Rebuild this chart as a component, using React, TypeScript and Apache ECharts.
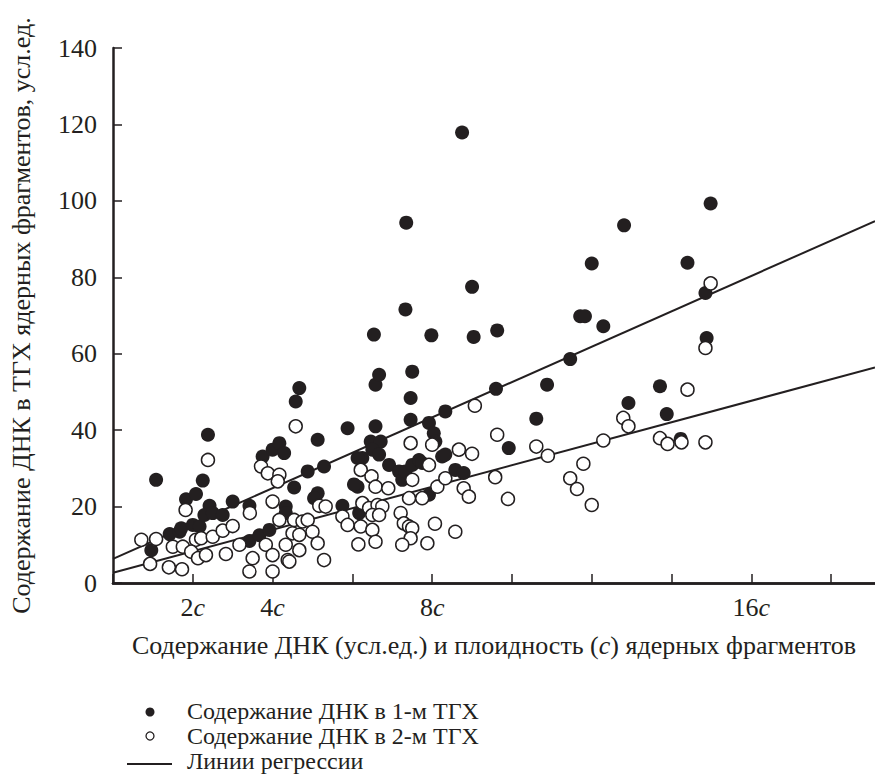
import React, { useEffect, useRef } from "react";
import * as echarts from "echarts";

// DNA content (c units) vs DNA in 1st TGX (filled circles)
const tgx1: number[][] = [
  [1.08, 27.0], [0.96, 8.6], [1.42, 12.8], [1.67, 13.4], [1.71, 14.3], [2.0, 15.2],
  [2.17, 14.8], [1.83, 21.9], [2.08, 23.3], [2.25, 26.8], [2.38, 38.8], [2.42, 20.2],
  [2.29, 17.8], [2.5, 18.3], [2.75, 17.8], [3.0, 21.3], [3.42, 20.2], [3.42, 11.0],
  [3.67, 12.5], [3.75, 33.1], [4.0, 34.9], [4.17, 36.6], [4.29, 34.0], [3.92, 13.9],
  [4.33, 20.0], [4.33, 18.3], [4.58, 47.5], [4.67, 51.0], [4.54, 25.0], [4.88, 29.2],
  [5.13, 37.5], [5.29, 30.5], [5.13, 23.5], [5.04, 22.2], [5.75, 20.2], [5.88, 40.5],
  [6.17, 18.3], [6.13, 25.2], [6.04, 25.8], [6.25, 32.7], [6.13, 32.7], [6.46, 37.0],
  [6.71, 37.0], [6.5, 34.9], [6.67, 33.6], [6.58, 41.0], [6.58, 51.9], [6.67, 54.5],
  [6.54, 65.0], [6.92, 30.9], [7.17, 29.2], [7.25, 27.0], [7.33, 29.2], [7.5, 30.9],
  [7.67, 32.2], [7.75, 31.4], [7.46, 42.7], [7.46, 48.4], [7.5, 55.3], [7.33, 71.6],
  [7.35, 94.3], [7.92, 41.9], [7.92, 23.1], [7.98, 64.8], [8.04, 39.2], [8.08, 37.0],
  [8.25, 33.1], [8.33, 44.9], [8.33, 33.6], [8.58, 29.6], [8.79, 28.8], [8.75, 117.9],
  [9.0, 77.5], [9.04, 64.4], [9.6, 50.8], [9.63, 66.1], [9.92, 35.3], [10.61, 43.0],
  [10.88, 51.9], [11.46, 58.6], [11.71, 69.8], [11.83, 69.8], [12.0, 83.6], [12.29, 67.2],
  [12.81, 93.6], [12.92, 47.1], [13.71, 51.5], [13.88, 44.2], [14.23, 37.7], [14.4, 83.8],
  [14.85, 75.9], [14.88, 64.1], [14.98, 99.3]
];

// DNA in 2nd TGX (open circles)
const tgx2: number[][] = [
  [0.71, 11.3], [1.08, 11.5], [0.93, 5.0], [1.4, 4.1], [1.73, 3.6], [1.82, 19.1],
  [2.38, 32.2], [1.5, 9.5], [1.75, 9.5], [2.08, 11.3], [2.21, 11.7], [1.96, 8.2],
  [2.13, 6.5], [2.33, 7.3], [2.5, 12.1], [2.75, 13.7], [3.0, 14.9], [3.17, 10.0],
  [2.83, 7.6], [3.43, 18.3], [3.5, 6.5], [3.42, 3.0], [3.71, 30.5], [3.88, 28.7],
  [4.17, 28.3], [4.13, 26.6], [4.0, 21.3], [3.83, 10.0], [4.0, 7.3], [4.0, 3.0],
  [4.33, 10.0], [4.38, 6.0], [4.17, 16.5], [4.5, 13.0], [4.58, 41.0], [4.54, 16.5],
  [4.75, 16.1], [4.88, 16.5], [5.0, 13.4], [4.67, 12.6], [5.13, 10.4], [4.67, 8.6],
  [4.42, 5.6], [5.29, 6.0], [5.17, 20.2], [5.33, 20.0], [5.75, 17.4], [5.88, 15.2],
  [6.21, 14.8], [6.5, 13.9], [6.15, 10.1], [6.58, 10.8], [6.21, 29.6], [6.48, 27.9],
  [6.58, 25.2], [6.9, 24.8], [6.25, 20.9], [6.42, 19.6], [6.63, 20.4], [6.75, 20.0],
  [6.5, 17.8], [6.67, 17.8], [7.21, 18.3], [7.29, 15.6], [7.42, 14.8], [7.5, 14.3],
  [7.46, 11.7], [7.25, 10.0], [7.42, 22.2], [7.75, 22.2], [7.46, 36.6], [7.5, 27.0],
  [7.92, 30.9], [8.0, 36.2], [8.07, 15.5], [7.88, 10.4], [8.13, 25.2], [8.33, 27.4],
  [8.58, 13.4], [8.67, 34.9], [9.0, 33.8], [8.79, 24.8], [8.92, 22.6], [9.07, 46.4],
  [9.58, 27.7], [9.63, 38.8], [9.9, 22.0], [10.61, 35.7], [10.9, 33.3], [11.46, 27.4],
  [11.63, 24.6], [11.79, 31.2], [12.0, 20.4], [12.29, 37.3], [12.79, 43.2], [12.92, 41.0],
  [13.71, 37.9], [13.9, 36.4], [14.25, 36.8], [14.4, 50.6], [14.85, 61.5], [14.85, 36.8],
  [14.98, 78.4]
];

const regression1: number[][] = [[0, 6.3], [19.1, 94.7]];
const regression2: number[][] = [[0, 2.7], [19.1, 56.4]];

const xLabeled: number[] = [2, 4, 8, 16];
const legendNames: string[] = [
  "Содержание ДНК в 1-м ТГХ",
  "Содержание ДНК в 2-м ТГХ",
  "Линии регрессии",
];

const FONT = "'Liberation Serif', 'DejaVu Serif', serif";
const INK = "#231f20";
const FS = 26;
const LFS = 24;

export default function App() {
  const ref = useRef<HTMLDivElement>(null);
  useEffect(() => {
    if (!ref.current) return;
    const chart = echarts.init(ref.current, undefined, { renderer: "svg" });
    const rich = { i: { fontStyle: "italic", fontFamily: FONT, fontSize: FS, color: INK } };
    const legendText = (y: number, text: string) => ({
      type: "text",
      x: 187,
      y,
      style: { text, font: `${LFS}px ${FONT}`, fill: INK, textVerticalAlign: "middle" },
    });
    chart.setOption({
      animation: false,
      backgroundColor: "#fff",
      textStyle: { fontFamily: FONT, color: INK },
      grid: { left: 110, top: 48, right: 0, bottom: 193 },
      xAxis: [
        {
          type: "value",
          min: 0,
          max: 19.1,
          interval: 2,
          axisLine: { show: true, onZero: false, lineStyle: { color: INK, width: 2.5 } },
          axisTick: { show: true, inside: true, length: 9, lineStyle: { color: INK, width: 1.5 } },
          splitLine: { show: false },
          axisLabel: {
            margin: 11,
            fontSize: FS,
            fontFamily: FONT,
            color: INK,
            showMaxLabel: false,
            formatter: (v: number) => (xLabeled.includes(v) ? v + "{i|c}" : ""),
            rich,
          },
          name: "Содержание ДНК (усл.ед.) и плоидность ({i|c}) ядерных фрагментов",
          nameLocation: "middle",
          nameGap: 49,
          nameTextStyle: { fontSize: FS, fontFamily: FONT, color: INK, rich },
        },
        {
          type: "value",
          position: "top",
          min: 0,
          max: 19.1,
          axisLine: { show: true, lineStyle: { color: INK, width: 2.5 } },
          axisTick: { show: false },
          axisLabel: { show: false },
          splitLine: { show: false },
        },
      ],
      yAxis: {
        type: "value",
        min: 0,
        max: 140,
        interval: 20,
        axisLine: { show: true, lineStyle: { color: INK, width: 2.5 } },
        axisTick: { show: true, inside: true, length: 9, lineStyle: { color: INK, width: 1.5 } },
        splitLine: { show: false },
        axisLabel: { margin: 16, fontSize: FS, fontFamily: FONT, color: INK },
        name: "Содержание ДНК в ТГХ ядерных фрагментов, усл.ед.",
        nameLocation: "middle",
        nameGap: 79,
        nameTextStyle: { fontSize: FS, fontFamily: FONT, color: INK },
      },
      series: [
        {
          type: "line",
          data: regression1,
          showSymbol: false,
          lineStyle: { color: INK, width: 2 },
          z: 3,
        },
        {
          type: "line",
          data: regression2,
          showSymbol: false,
          lineStyle: { color: INK, width: 2 },
          z: 3,
        },
        {
          type: "scatter",
          data: tgx1,
          symbol: "circle",
          symbolSize: 14,
          itemStyle: { color: INK, opacity: 1 },
          z: 4,
        },
        {
          type: "scatter",
          data: tgx2,
          symbol: "circle",
          symbolSize: 13,
          itemStyle: { color: "#fff", borderColor: INK, borderWidth: 1.5, opacity: 1 },
          z: 5,
        },
      ],
      graphic: [
        { type: "circle", shape: { cx: 150, cy: 712, r: 4.5 }, style: { fill: INK } },
        { type: "circle", shape: { cx: 150, cy: 736, r: 4 }, style: { fill: "#fff", stroke: INK, lineWidth: 1.3 } },
        { type: "line", shape: { x1: 127, y1: 764, x2: 172, y2: 764 }, style: { stroke: INK, lineWidth: 2 } },
        legendText(711, legendNames[0]),
        legendText(736, legendNames[1]),
        legendText(761, legendNames[2]),
      ],
    });
    return () => chart.dispose();
  }, []);
  return (
    <div
      ref={ref}
      style={{ position: "fixed", left: 0, top: 0, width: 875, height: 776, background: "#fff" }}
    />
  );
}
